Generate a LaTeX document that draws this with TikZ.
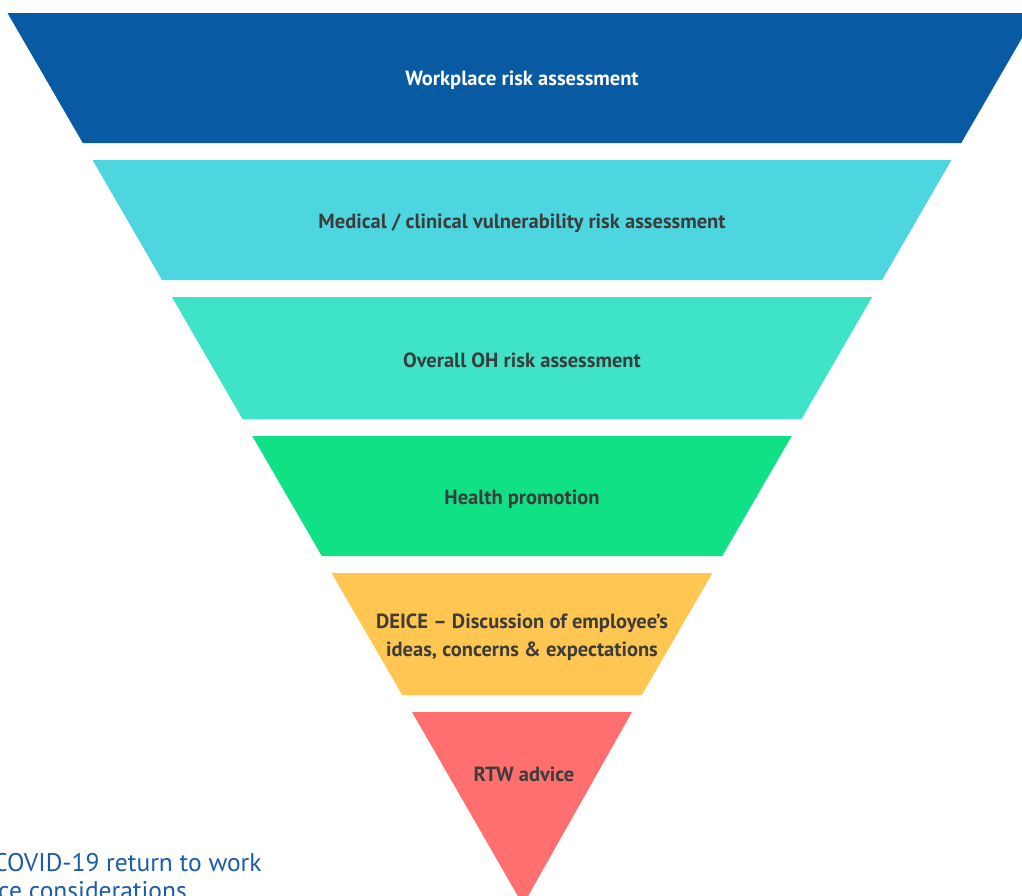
\documentclass[tikz,border=0pt]{standalone}
\usepackage{fontspec}
\newfontfamily\labfont{PT Sans}
\definecolor{c1}{HTML}{085BA3}
\definecolor{c2}{HTML}{4DD5E0}
\definecolor{c3}{HTML}{3EE3C8}
\definecolor{c4}{HTML}{10E184}
\definecolor{c5}{HTML}{FFC652}
\definecolor{c6}{HTML}{FF6F6F}
\definecolor{txt}{HTML}{3C3C3C}
\definecolor{bluetxt}{HTML}{1A5CA8}
\tikzset{
  band/.style={draw=none},
  lab/.style={font=\labfont\bfseries\fontsize{20.5}{28}\selectfont, text=txt, align=center, inner sep=0pt},
  foot/.style={font=\labfont\fontsize{25.5}{28}\selectfont, text=bluetxt, inner sep=0pt, anchor=base west}
}
\begin{document}
\begin{tikzpicture}[x=1pt,y=-1pt]
\useasboundingbox (0,0) rectangle (1022,895);
\clip (0,0) rectangle (1022,895);
\fill[white] (0,0) rectangle (1022,895);
\fill[c1,band] (7.5,13) -- (1036.5,13) -- (961.2,143) -- (82.8,143) -- cycle;
\fill[c2,band] (92.6,160) -- (951.4,160) -- (882,280) -- (162,280) -- cycle;
\fill[c3,band] (171.9,297) -- (872.1,297) -- (801.5,419) -- (242.5,419) -- cycle;
\fill[c4,band] (252.3,436) -- (791.7,436) -- (722.2,556) -- (321.8,556) -- cycle;
\fill[c5,band] (331.6,573) -- (712.4,573) -- (641.8,695) -- (402.2,695) -- cycle;
\fill[c6,band] (412,712) -- (632,712) -- (523,905) -- cycle;
\node[lab, text=white] (t1) at (522,80) {Workplace risk assessment};
\node[lab] (t2) at (522,223) {Medical / clinical vulnerability risk assessment};
\node[lab] (t3) at (522,360) {Overall OH risk assessment};
\node[lab] (t4) at (522,499) {Health promotion};
\node[lab] (t5) at (522,637) {DEICE – Discussion of employee’s\\ideas, concerns \& expectations};
\node[lab] (t6) at (524,774) {RTW advice};
\node[foot] (f1) at (-7,871) {COVID-19 return to work};
\node[foot] (f2) at (-2,899) {ce considerations};
\end{tikzpicture}
\end{document}
